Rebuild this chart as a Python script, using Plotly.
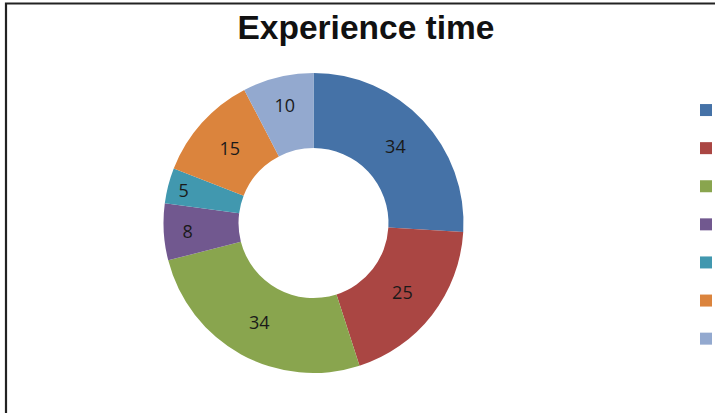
import plotly.graph_objects as go

categories = ["Less than 1 year", "1-2 years", "2-5 years", "5-10 years",
              "10-15 years", "15-20 years", "More than 20 years"]
values = [34, 25, 34, 8, 5, 15, 10]
colors = ["#4572A7", "#AA4643", "#89A54E", "#71588F", "#4198AF", "#DB843D", "#93A9CF"]

W, H = 715, 413
cx, cy, R = 313.5, 223, 150

fig = go.Figure(go.Pie(
    labels=categories,
    values=values,
    sort=False,
    direction="clockwise",
    rotation=0,
    hole=0.5,
    marker=dict(colors=colors, line=dict(width=0)),
    textinfo="value",
    textposition="inside",
    insidetextorientation="horizontal",
    textfont=dict(family="Open Sans", size=18, color="#1a1a1a"),
    domain=dict(x=[(cx - R) / W, (cx + R) / W], y=[1 - (cy + R) / H, 1 - (cy - R) / H]),
))

fig.update_layout(
    width=W, height=H,
    margin=dict(l=0, r=0, t=0, b=0, autoexpand=False),
    paper_bgcolor="white",
    title=dict(text="<b>Experience time</b>", x=366 / W, xanchor="center",
               y=1 - 27 / H, yanchor="middle", yref="container",
               font=dict(family="Liberation Sans", size=33.5, color="#111111")),
    legend=dict(x=686 / W, xanchor="left", y=1 - 86 / H, yanchor="top",
                font=dict(family="Open Sans", size=27, color="#222"),
                bgcolor="rgba(0,0,0,0)", traceorder="normal"),
    uniformtext=dict(minsize=18, mode="show"),
    shapes=[dict(type="rect", xref="paper", yref="paper",
                 x0=6 / W, x1=1.2, y0=1 - 3.5 / H, y1=-0.2,
                 line=dict(color="#222222", width=2.2))],
)

fig.write_html("out.html")
